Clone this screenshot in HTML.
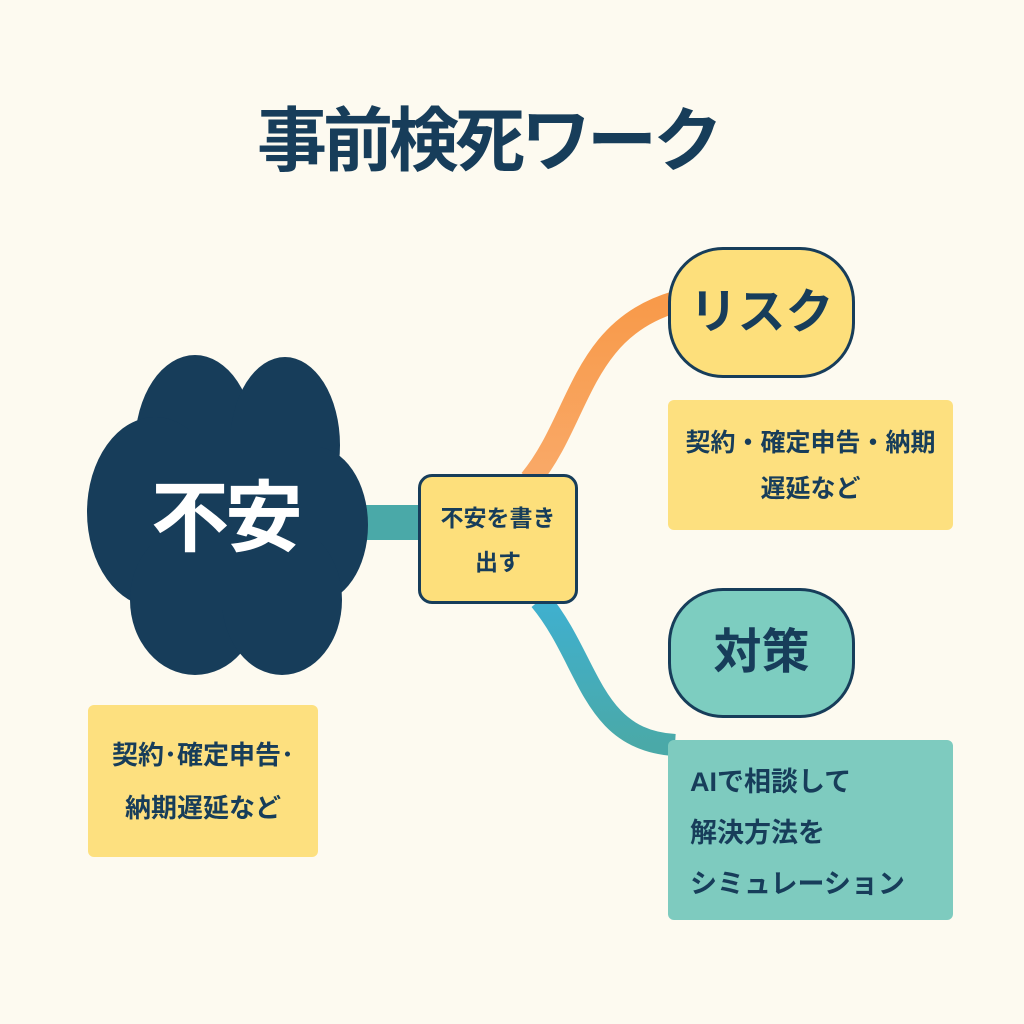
<!DOCTYPE html>
<html><head><meta charset="utf-8"><style>
body{margin:0;width:1024px;height:1024px;background:#fdfaf0;overflow:hidden;position:relative;font-family:"Liberation Sans","Noto Sans CJK JP",sans-serif;font-weight:700;color:#173d5a}
.a{position:absolute;white-space:nowrap}
</style></head><body>
<svg class="a" style="left:0;top:0" width="1024" height="1024">
<defs>
<linearGradient id="og" x1="0" y1="1" x2="0" y2="0"><stop offset="0" stop-color="#f9a968"/><stop offset="1" stop-color="#f89a4a"/></linearGradient>
<linearGradient id="bg" x1="0" y1="0" x2="0" y2="1"><stop offset="0" stop-color="#3fb0d0"/><stop offset="1" stop-color="#4aa9a8"/></linearGradient>
</defs>
<path d="M530 480 C 580 420, 580 330, 675 302" stroke="url(#og)" stroke-width="22" fill="none"/>
<path d="M540 600 C 590 660, 590 740, 675 745" stroke="url(#bg)" stroke-width="22" fill="none"/>
<rect x="355" y="505" width="70" height="35" fill="#4aa9a8"/>
<g fill="#173d5a">
<ellipse cx="195" cy="445" rx="60" ry="90"/>
<ellipse cx="285" cy="445" rx="55" ry="88"/>
<ellipse cx="155" cy="512" rx="68" ry="95"/>
<ellipse cx="315" cy="525" rx="53" ry="78"/>
<ellipse cx="195" cy="600" rx="65" ry="75"/>
<ellipse cx="282" cy="600" rx="60" ry="75"/>
<rect x="150" y="430" width="170" height="180"/>
</g>
</svg>
<div class="a" style="left:0;width:976px;top:86px;text-align:center;font-size:70px;letter-spacing:-4px;line-height:110px">事前検死ワーク</div>
<div class="a" style="left:100px;width:250px;top:468px;text-align:center;font-size:78px;letter-spacing:-4px;line-height:100px;color:#fff">不安</div>
<div class="a" style="left:418px;top:474px;width:160px;height:130px;box-sizing:border-box;border:3px solid #173d5a;border-radius:14px;background:#fddf7b;text-align:center;font-size:23px;line-height:44px;padding-top:19px">不安を書き<br>出す</div>
<div class="a" style="left:668px;top:247px;width:187px;height:131px;box-sizing:border-box;border:3px solid #173d5a;border-radius:55px;background:#fddf7b;text-align:center;font-size:48px;line-height:125px">リスク</div>
<div class="a" style="left:668px;top:400px;width:285px;height:130px;border-radius:6px;background:#fde07f;text-align:center;font-size:25px;line-height:46px;padding-top:20px;box-sizing:border-box">契約・確定申告・納期<br>遅延など</div>
<div class="a" style="left:668px;top:588px;width:187px;height:130px;box-sizing:border-box;border:3px solid #173d5a;border-radius:55px;background:#7dcdc0;text-align:center;font-size:48px;line-height:124px">対策</div>
<div class="a" style="left:668px;top:740px;width:285px;height:180px;border-radius:6px;background:#7ecbbf;font-size:27px;line-height:51px;padding:17px 0 0 22px;box-sizing:border-box">AIで相談して<br>解決方法を<br>シミュレーション</div>
<div class="a" style="left:88px;top:705px;width:230px;height:152px;border-radius:6px;background:#fde07f;text-align:center;font-size:26px;line-height:53px;padding-top:24px;box-sizing:border-box">契約･確定申告･<br>納期遅延など</div>
</body></html>
